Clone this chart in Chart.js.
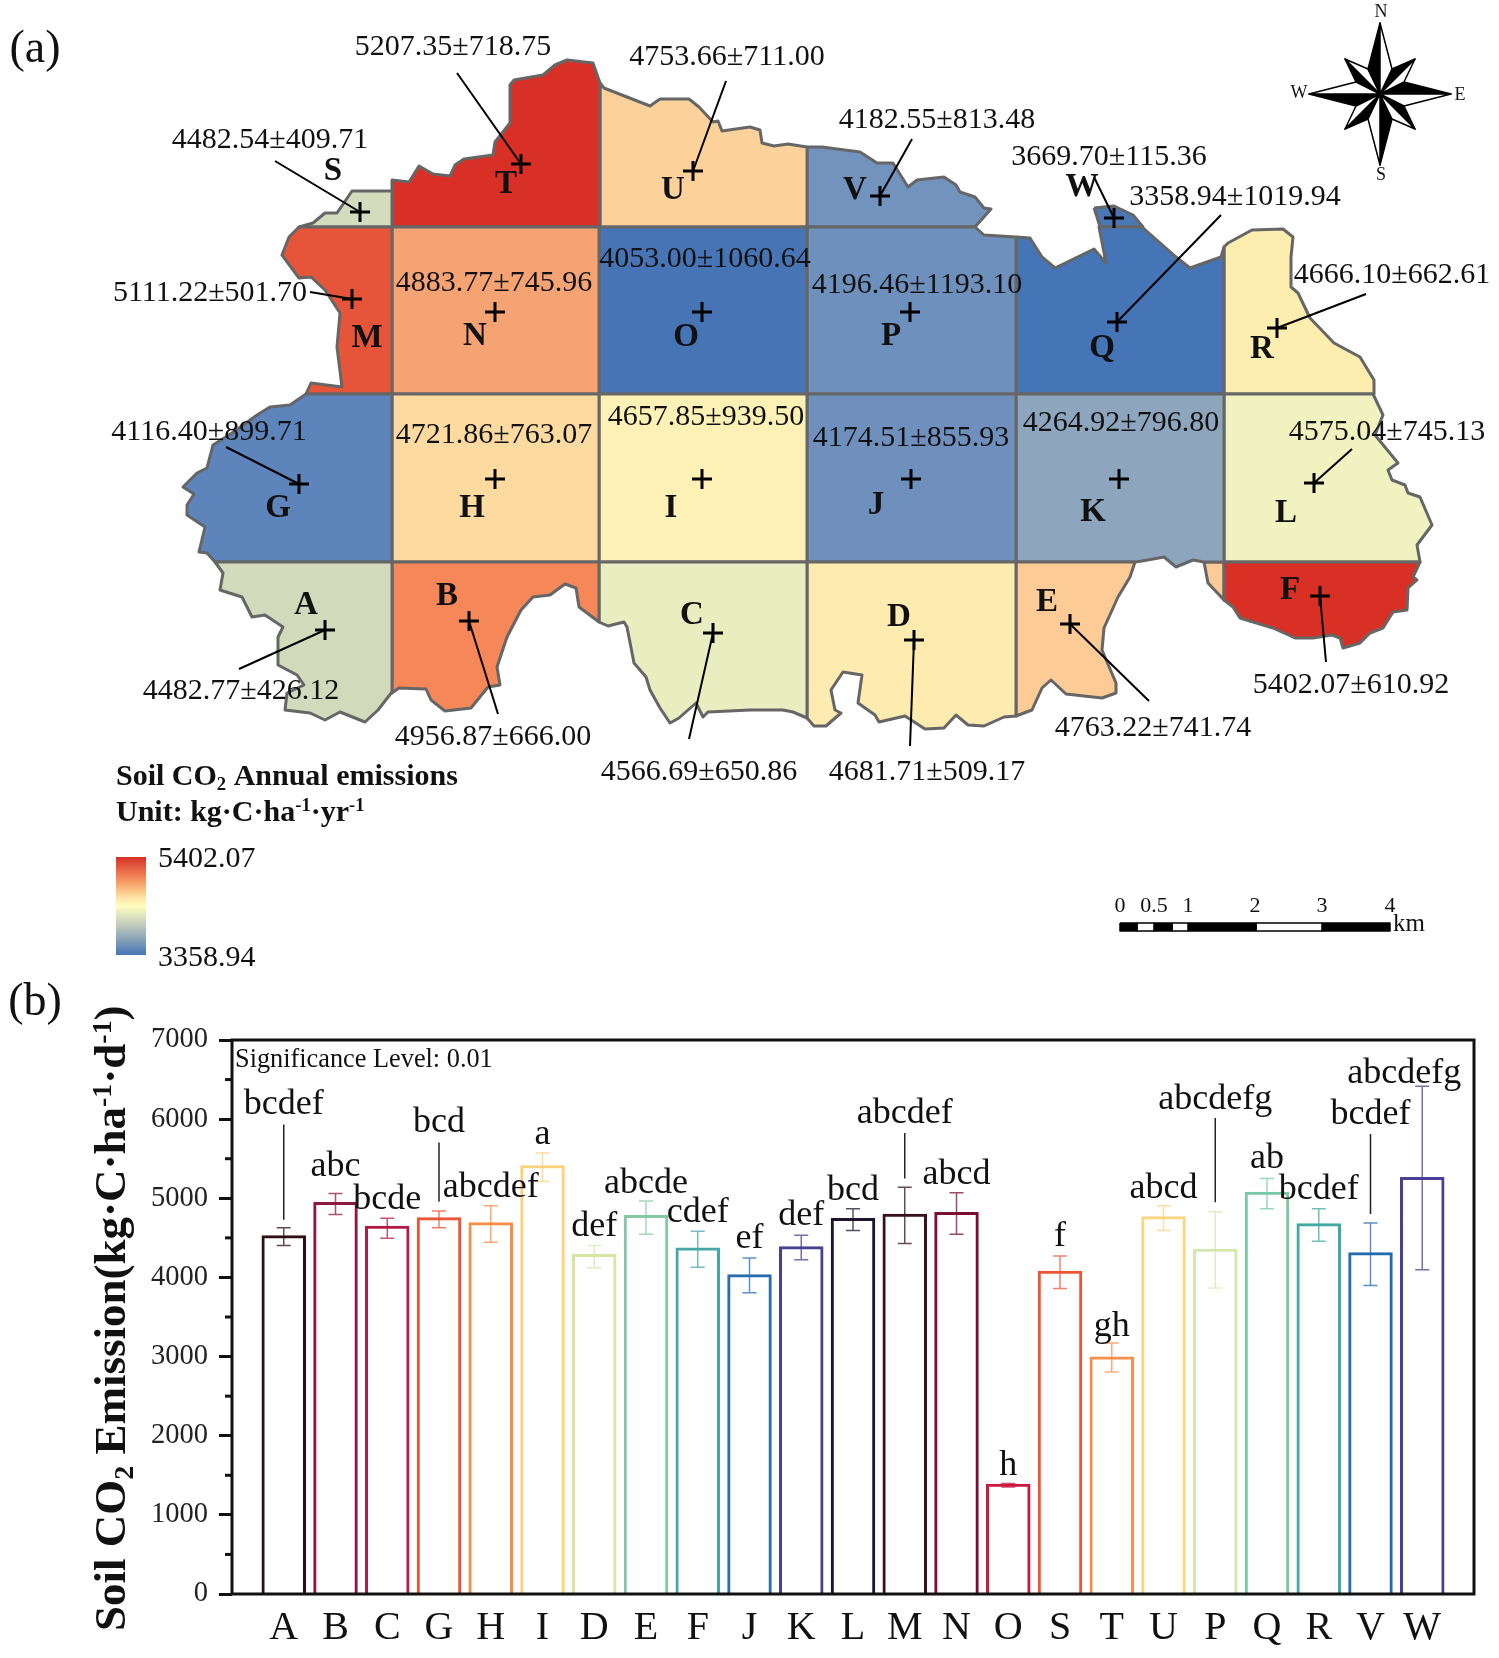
<!DOCTYPE html>
<html>
<head>
<meta charset="utf-8">
<title>Soil CO2 emissions</title>
<script src="https://cdn.jsdelivr.net/npm/chart.js@4/dist/chart.umd.min.js"></script>
<style>
  html, body { margin: 0; padding: 0; background: #fff; }
  canvas { display: block; }
</style>
</head>
<body>
<canvas id="mapCanvas" width="1499" height="975"></canvas>
<canvas id="barCanvas" width="1499" height="683"></canvas>
<script>
// map units are reference pixels
const regionNames = ['A','B','C','D','E','F','G','H','I','J','K','L','M','N','O','P','Q','R','S','T','U','V','W'];
const regionLabels = ['4482.77±426.12','4956.87±666.00','4566.69±650.86','4681.71±509.17','4763.22±741.74','5402.07±610.92',
  '4116.40±899.71','4721.86±763.07','4657.85±939.50','4174.51±855.93','4264.92±796.80','4575.04±745.13',
  '5111.22±501.70','4883.77±745.96','4053.00±1060.64','4196.46±1193.10','3358.94±1019.94','4666.10±662.61',
  '4482.54±409.71','5207.35±718.75','4753.66±711.00','4182.55±813.48','3669.70±115.36'];
const regionColors = ['#D2DABB','#F58758','#E8EEC0','#FEEBB0','#FDCB95','#D93025',
  '#5D84BB','#FDDAA0','#FEF1B5','#6F90BD','#8DA6BE','#F0F2C0',
  '#E6553A','#F5A373','#4674B5','#6E90BC','#4574B7','#FDEEB0',
  '#D4DCBD','#D83026','#FCD29A','#7193BE','#4A78B5'];

const labelX = [241,493,699,927,1153,1351,209,494,706,911,1121,1387,210,494,705,917,1235,1392,270,453,727,937,1109];
const labelY = [691,737,772,772,728,685,432,435,417,438,423,432,293,283,259,285,197,275,140,47,57,120,157];
const letterX = [306,447,692,899,1047,1290,278,472,671,876,1093,1286,367,475,686,891,1102,1262,333,506,673,855,1082];
const letterY = [605,596,615,617,602,590,508,508,508,505,512,513,338,336,337,336,348,349,171,184,190,190,187];
const crossX = [325,469,713,914,1070,1320,299,495,702,911,1119,1314,352,495,702,910,1117,1277,360,521,693,880,1114];
const crossY = [630,621,633,640,624,596,484,479,479,479,479,483,299,312,312,312,322,328,212,164,171,196,218];
const leaderX = [239,498,689,910,1149,1326,226,null,null,null,null,1352,310,null,null,null,1221,1366,275,457,726,912,1094];
const leaderY = [669,714,739,746,701,662,447,null,null,null,null,449,292,null,null,null,215,294,161,73,81,139,177];

const polyA = [[215,562],[392,562],[392,692],[378,710],[365,722],[340,712],[325,720],[310,713],[285,710],[287,693],[304,685],[297,675],[278,665],[278,637],[283,627],[265,615],[252,617],[242,597],[220,590],[223,573]];
const polyB = [[392,562],[599,562],[599,622],[579,607],[576,588],[565,584],[550,595],[533,597],[521,610],[507,637],[497,667],[500,685],[488,687],[471,708],[445,711],[431,700],[426,689],[399,688],[392,693]];
const polyC = [[599,562],[807,562],[807,718],[793,712],[783,710],[750,710],[708,712],[703,717],[696,703],[679,718],[670,723],[660,708],[650,690],[646,677],[634,663],[627,627],[624,622],[608,626],[599,622]];
const polyD = [[807,562],[1016,562],[1016,716],[1004,717],[984,726],[968,725],[956,715],[944,728],[925,729],[905,716],[879,722],[875,715],[858,703],[862,675],[843,672],[831,690],[835,710],[841,713],[826,726],[814,726],[807,718]];
const polyE = [[1016,562],[1135,562],[1130,577],[1118,597],[1104,628],[1102,650],[1116,683],[1116,693],[1102,698],[1066,694],[1051,680],[1042,688],[1032,710],[1016,716]];
const polyE2 = [[1204,562],[1224,562],[1224,600],[1208,583]];
const polyF = [[1224,562],[1420,562],[1413,577],[1417,580],[1408,588],[1407,610],[1393,612],[1383,628],[1370,633],[1360,643],[1343,648],[1340,638],[1332,635],[1313,638],[1295,638],[1273,628],[1240,618],[1233,607],[1224,600]];
const polyG = [[392,394],[392,562],[215,562],[207,553],[199,552],[205,527],[187,515],[187,505],[194,494],[183,487],[197,473],[207,468],[213,445],[232,433],[257,415],[270,407],[290,405],[306,394]];
const polyH = [[392,394],[599,394],[599,562],[392,562]];
const polyI = [[599,394],[807,394],[807,562],[599,562]];
const polyJ = [[807,394],[1016,394],[1016,562],[807,562]];
const polyK = [[1016,394],[1224,394],[1224,562],[1204,562],[1193,560],[1176,567],[1164,557],[1142,561],[1135,562],[1016,562]];
const polyL = [[1224,394],[1373,394],[1383,415],[1375,435],[1398,463],[1388,470],[1392,480],[1405,485],[1408,493],[1420,497],[1432,525],[1417,545],[1420,562],[1224,562]];
const polyM = [[392,227],[392,394],[306,394],[311,383],[342,387],[337,347],[340,313],[325,290],[311,277],[299,278],[282,255],[289,237],[299,227]];
const polyN = [[392,227],[599,227],[599,394],[392,394]];
const polyO = [[599,227],[807,227],[807,394],[599,394]];
const polyP = [[807,227],[975,227],[984,235],[1016,237],[1016,394],[807,394]];
const polyQ = [[1016,237],[1030,238],[1042,257],[1055,268],[1094,249],[1106,263],[1099,227],[1142,227],[1176,257],[1190,268],[1221,257],[1224,247],[1224,394],[1016,394]];
const polyR = [[1224,247],[1228,243],[1252,230],[1283,229],[1293,237],[1291,257],[1291,287],[1298,293],[1310,318],[1334,343],[1360,357],[1374,380],[1374,394],[1224,394]];
const polyS = [[392,227],[299,227],[313,223],[325,213],[337,213],[352,191],[390,191],[392,191]];
const polyT = [[392,227],[392,180],[409,182],[419,166],[433,174],[450,176],[455,165],[464,159],[493,155],[495,142],[510,123],[510,85],[514,80],[543,75],[555,65],[567,60],[593,63],[600,83],[600,227]];
const polyU = [[600,83],[604,88],[627,97],[650,106],[660,99],[689,99],[699,107],[713,122],[718,121],[722,131],[750,127],[760,130],[762,143],[774,146],[788,144],[807,147],[807,227],[600,227]];
const polyV = [[807,147],[822,147],[860,152],[877,163],[893,163],[908,187],[917,180],[944,177],[956,185],[960,192],[975,197],[984,208],[991,209],[975,227],[807,227]];
const polyW = [[1094,208],[1114,206],[1133,215],[1143,227],[1100,227],[1097,217]];
const regionPolys = [polyA,polyB,polyC,polyD,polyE,polyF,polyG,polyH,polyI,polyJ,polyK,polyL,polyM,polyN,polyO,polyP,polyQ,polyR,polyS,polyT,polyU,polyV,polyW];

// north arrow, clockwise from N, relative to its centre
const compassCentre = [1380, 94];
const compassTips = [[0,-71],[35,-35],[71,0],[35,35],[0,71],[-35,35],[-71,0],[-35,-35]];
const compassNotches = [[12,-25],[24,-12],[24,12],[12,25],[-12,25],[-24,12],[-24,-12],[-12,-25]];
const compassLetters = ['N','E','S','W'];
const compassLetterX = [1381,1460,1381,1299];
const compassLetterY = [12,95,175,93];

const scaleBarStops = [1120,1137,1154,1172,1188,1256,1322,1390];
const scaleBarLabels = ['0','0.5','1','2','3','4'];
const scaleBarLabelX = [1120,1154,1188,1255,1322,1390];

const legendMax = '5402.07';
const legendMin = '3358.94';

// bar chart
const categories = ['A','B','C','G','H','I','D','E','F','J','K','L','M','N','O','S','T','U','P','Q','R','V','W'];
const emissions = [4532,4953,4652,4761,4696,5418,4297,4789,4379,4040,4395,4750,4805,4827,1393,4083,3000,4772,4362,5084,4685,4318,5270];
const errorUp = [4627,5059,4747,4840,4905,5573,4402,4966,4583,4244,4533,4867,5141,5070,1395,4271,3172,4905,4829,5250,4867,4687,6415];
const errorDown = [4402,4796,4495,4627,4446,5212,4123,4545,4129,3806,4222,4594,4430,4545,1351,3861,2805,4594,3866,4867,4457,3899,4096];
const barColors = ['#2E0F16','#8B1A3E','#B01C45','#EC5433','#F68E45','#FBD27A','#D4E5A6','#86C8A6','#48A6A9','#2A6CAE','#45408F','#1D1530',
  '#3A0F20','#7B0D34','#C9183F','#EE5536','#F78F4B','#FCD580','#D3E8AE','#78C8A8','#3FA9A5','#226BAE','#4A3F97'];
const sigLetters = ['bcdef','abc','bcde','bcd','abcdef','a','def','abcde','cdef','ef','def','bcd','abcdef','abcd','h','f','gh','abcd','abcdefg','ab','bcdef','bcdef','abcdefg'];
const sigValues = [6187,5405,4979,5952,5132,5802,4640,5187,4820,4485,4786,5094,6072,5296,1625,4514,3381,5121,6253,5501,5116,6062,6570];
const sigShift = [0,0,0,0,0,0,0,0,0,0,0,0,0,0,0,0,0,0,0,0,0,0,-18];
// A, G, M, P, V carry a thin line from the letter to the bar
const sigLineFrom = [5933,null,null,5704,null,null,null,null,null,null,null,null,5824,null,null,null,null,null,6016,null,null,5813,null];
const sigLineTo = [4730,null,null,4955,null,null,null,null,null,null,null,null,5250,null,null,null,null,null,4949,null,null,4802,null];
const yMinorTicks = [500,1500,2500,3500,4500,5500,6500];

const SERIF = '"Liberation Serif", serif';

function pts(arr) {
  return arr.map(p => ({ x: p[0], y: p[1] }));
}

function shape(arr, color, edge, width, order) {
  return {
    type: 'line',
    data: pts(arr.concat([arr[0]])),
    fill: 'shape',
    backgroundColor: color,
    borderColor: edge,
    borderWidth: width,
    borderJoinStyle: 'round',
    pointRadius: 0,
    tension: 0,
    order: order
  };
}

function segment(x1, y1, x2, y2, width) {
  return {
    type: 'line',
    data: pts([[x1, y1], [x2, y2]]),
    borderColor: '#000',
    borderWidth: width,
    pointRadius: 0,
    fill: false,
    order: 1
  };
}

// text with sub and superscript parts, optionally turned 90 degrees
function drawRuns(ctx, x, y, runs, size, vertical) {
  ctx.save();
  ctx.translate(x, y);
  if (vertical) ctx.rotate(-Math.PI / 2);
  ctx.textAlign = 'left';
  ctx.textBaseline = 'alphabetic';
  ctx.fillStyle = '#111';
  let pos = 0;
  runs.forEach(run => {
    const small = run[1] !== 0;
    ctx.font = 'bold ' + (small ? size * 0.62 : size) + 'px ' + SERIF;
    ctx.fillText(run[0], pos, run[1] * size);
    pos += ctx.measureText(run[0]).width;
  });
  ctx.restore();
}

const mapDatasets = [];
regionNames.forEach((name, i) => {
  mapDatasets.push(shape(regionPolys[i], regionColors[i], '#666', 3, 5));
});
mapDatasets.push(shape(polyE2, regionColors[4], '#666', 3, 5));

crossX.forEach((x, i) => {
  if (leaderX[i] !== null) mapDatasets.push(segment(x, crossY[i], leaderX[i], leaderY[i], 2));
});
mapDatasets.push({
  type: 'scatter',
  data: crossX.map((x, i) => ({ x: x, y: crossY[i] })),
  pointStyle: 'cross',
  pointRadius: 10,
  pointBorderWidth: 3,
  pointBorderColor: '#000',
  showLine: false,
  order: 0
});

compassTips.forEach((tip, i) => {
  const cx = compassCentre[0], cy = compassCentre[1];
  const before = compassNotches[(i + 7) % 8], after = compassNotches[i];
  const t = [cx + tip[0], cy + tip[1]];
  mapDatasets.push(shape([[cx, cy], t, [cx + after[0], cy + after[1]]], '#fff', '#000', 1.5, 2));
  mapDatasets.push(shape([[cx, cy], t, [cx + before[0], cy + before[1]]], '#000', '#000', 1.5, 2));
});

for (let i = 0; i < scaleBarStops.length - 1; i++) {
  const a = scaleBarStops[i], b = scaleBarStops[i + 1];
  mapDatasets.push(shape([[a, 923], [b, 923], [b, 931], [a, 931]], i % 2 === 0 ? '#000' : '#fff', '#000', 1.5, 2));
}

// colour ramp of the map legend
const ramp = shape([[116, 857], [146, 857], [146, 955], [116, 955]], null, 'rgba(0,0,0,0)', 0, 2);
ramp.backgroundColor = context => {
  const g = context.chart.ctx.createLinearGradient(0, 857, 0, 955);
  g.addColorStop(0, '#D73027');
  g.addColorStop(0.25, '#F79A62');
  g.addColorStop(0.42, '#FEE5A5');
  g.addColorStop(0.5, '#FFFFBF');
  g.addColorStop(0.72, '#B8C4BC');
  g.addColorStop(1, '#4575B4');
  return g;
};
mapDatasets.push(ramp);

const mapText = {
  id: 'mapText',
  afterDatasetsDraw(chart) {
    const ctx = chart.ctx;
    const px = chart.scales.x, py = chart.scales.y;
    ctx.save();
    ctx.textAlign = 'center';
    ctx.textBaseline = 'middle';
    ctx.fillStyle = '#111';

    ctx.font = '30px ' + SERIF;
    regionLabels.forEach((t, i) => ctx.fillText(t, px.getPixelForValue(labelX[i]), py.getPixelForValue(labelY[i])));

    ctx.font = 'bold 33px ' + SERIF;
    regionNames.forEach((t, i) => ctx.fillText(t, px.getPixelForValue(letterX[i]), py.getPixelForValue(letterY[i])));

    ctx.font = '18px ' + SERIF;
    compassLetters.forEach((t, i) => ctx.fillText(t, px.getPixelForValue(compassLetterX[i]), py.getPixelForValue(compassLetterY[i])));

    ctx.font = '22px ' + SERIF;
    scaleBarLabels.forEach((t, i) => ctx.fillText(t, px.getPixelForValue(scaleBarLabelX[i]), py.getPixelForValue(906)));
    ctx.font = '25px ' + SERIF;
    ctx.fillText('km', px.getPixelForValue(1409), py.getPixelForValue(924));

    ctx.font = '46px ' + SERIF;
    ctx.fillText('(a)', px.getPixelForValue(35), py.getPixelForValue(50));

    ctx.font = '30px ' + SERIF;
    ctx.textAlign = 'left';
    ctx.fillText(legendMax, px.getPixelForValue(158), py.getPixelForValue(859));
    ctx.fillText(legendMin, px.getPixelForValue(158), py.getPixelForValue(958));
    ctx.restore();

    drawRuns(ctx, 116, 785, [['Soil CO', 0], ['2', 0.18], [' Annual emissions', 0]], 30, false);
    drawRuns(ctx, 116, 821, [['Unit: kg·C·ha', 0], ['-1', -0.32], ['·yr', 0], ['-1', -0.32]], 30, false);
  }
};

new Chart(document.getElementById('mapCanvas'), {
  type: 'line',
  data: { datasets: mapDatasets },
  plugins: [mapText],
  options: {
    responsive: false,
    animation: false,
    devicePixelRatio: 1,
    layout: { padding: 0, autoPadding: false },
    plugins: { legend: { display: false }, tooltip: { enabled: false } },
    scales: {
      x: { type: 'linear', min: 0, max: 1499, display: false },
      y: { type: 'linear', min: 0, max: 975, reverse: true, display: false }
    }
  }
});

const barExtras = {
  id: 'barExtras',
  afterDatasetsDraw(chart) {
    const ctx = chart.ctx;
    const area = chart.chartArea;
    const sx = chart.scales.x, sy = chart.scales.y;

    categories.forEach((c, i) => {
      const x = sx.getPixelForValue(i + 1);
      ctx.save();
      ctx.strokeStyle = barColors[i];
      ctx.globalAlpha = 0.75;
      ctx.lineWidth = 1.5;
      ctx.beginPath();
      ctx.moveTo(x, sy.getPixelForValue(errorUp[i]));
      ctx.lineTo(x, sy.getPixelForValue(errorDown[i]));
      [errorUp[i], errorDown[i]].forEach(v => {
        ctx.moveTo(x - 7, sy.getPixelForValue(v));
        ctx.lineTo(x + 7, sy.getPixelForValue(v));
      });
      ctx.stroke();
      ctx.restore();
    });

    ctx.save();
    ctx.strokeStyle = '#111';
    ctx.lineWidth = 3;
    ctx.strokeRect(area.left, area.top, area.right - area.left, area.bottom - area.top);
    yMinorTicks.forEach(v => {
      const y = sy.getPixelForValue(v);
      ctx.beginPath();
      ctx.moveTo(area.left - 7, y);
      ctx.lineTo(area.left, y);
      ctx.stroke();
    });

    ctx.fillStyle = '#111';
    ctx.textAlign = 'center';
    ctx.textBaseline = 'middle';
    ctx.font = '36px ' + SERIF;
    sigLetters.forEach((t, i) => {
      ctx.fillText(t, sx.getPixelForValue(i + 1) + sigShift[i], sy.getPixelForValue(sigValues[i]));
    });

    ctx.strokeStyle = '#222';
    ctx.lineWidth = 1.5;
    sigLineFrom.forEach((v, i) => {
      if (v === null) return;
      const x = sx.getPixelForValue(i + 1);
      ctx.beginPath();
      ctx.moveTo(x, sy.getPixelForValue(v));
      ctx.lineTo(x, sy.getPixelForValue(sigLineTo[i]));
      ctx.stroke();
    });

    ctx.textAlign = 'left';
    ctx.font = '26.3px ' + SERIF;
    ctx.fillText('Significance Level: 0.01', area.left + 3, sy.getPixelForValue(6743));

    ctx.textAlign = 'center';
    ctx.font = '46px ' + SERIF;
    ctx.fillText('(b)', 35, 28);
    ctx.restore();

    drawRuns(ctx, 125, 656, [['Soil CO', 0], ['2', 0.18], [' Emission(kg·C·ha', 0], ['-1', -0.32], ['·d', 0], ['-1', -0.32], [')', 0]], 45, true);
  }
};

new Chart(document.getElementById('barCanvas'), {
  type: 'bar',
  data: {
    labels: [''].concat(categories, ['']),
    datasets: [{
      data: [null].concat(emissions, [null]),
      backgroundColor: 'rgba(0,0,0,0)',
      borderColor: [null].concat(barColors, [null]),
      borderWidth: 3,
      barPercentage: 0.86,
      categoryPercentage: 1
    }]
  },
  plugins: [barExtras],
  options: {
    responsive: false,
    animation: false,
    devicePixelRatio: 1,
    layout: { padding: { top: 65, right: 25, left: 0, bottom: 0 } },
    plugins: { legend: { display: false }, tooltip: { enabled: false } },
    scales: {
      x: {
        offset: false,
        grid: { display: false, drawTicks: false },
        border: { display: false },
        afterFit: scale => { scale.height = 64; },
        ticks: {
          autoSkip: false,
          maxRotation: 0,
          padding: 10,
          color: '#111',
          font: { family: SERIF, size: 40 }
        }
      },
      y: {
        min: 0,
        max: 7000,
        afterFit: scale => { scale.width = 232; },
        grid: { drawOnChartArea: false, tickLength: 13, tickWidth: 3, tickColor: '#111' },
        border: { display: false },
        ticks: {
          stepSize: 1000,
          padding: 11,
          color: '#222',
          font: { family: SERIF, size: 28.5 },
          callback: v => String(v)
        }
      }
    }
  }
});
</script>
</body>
</html>
